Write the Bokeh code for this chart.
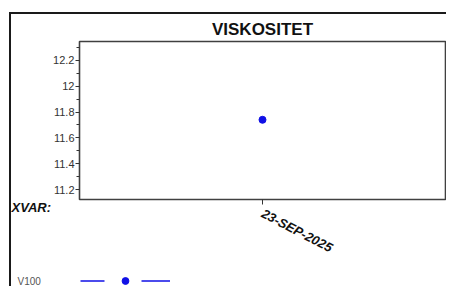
from bokeh.plotting import figure
from bokeh.models import (Label, Range1d, FactorRange, FixedTicker, Legend, LegendItem,
                          CustomJSTickFormatter, ColumnDataSource, Title)
from bokeh.layouts import column
from bokeh.embed import file_html
from bokeh.resources import INLINE

# ---- data ----
dates = ["23-SEP-2025"]
v100 = [11.74]
y_ticks = [11.2, 11.4, 11.6, 11.8, 12.0, 12.2]
y_minor = [11.2, 11.3, 11.4, 11.5, 11.6, 11.7, 11.8, 11.9, 12.0, 12.1, 12.2, 12.3]
title_text = "VISKOSITET"
xvar_text = "XVAR:"
series_name = "V100"

FONT = "Liberation Sans"
BLUE = "#1010e6"

src = ColumnDataSource(dict(x=dates, y=v100))

# ---------------- main chart ----------------
p = figure(width=435, height=254, output_backend="svg", toolbar_location=None,
           title=None, x_range=FactorRange(factors=dates),
           y_range=Range1d(11.123, 12.346),
           min_border_left=64, min_border_right=1, min_border_top=26,
           min_border_bottom=69)
p.background_fill_color = "white"
p.border_fill_color = "white"
p.outline_line_color = "#404040"
p.outline_line_width = 1.6
p.grid.visible = False

p.scatter("x", "y", source=src, size=7, color=BLUE, marker="circle")

p.add_layout(Title(text=title_text, align="center", text_font=FONT,
                   text_font_size="17px", text_font_style="bold",
                   text_color="#111111", standoff=6), "above")

ya = p.yaxis[0]
ya.ticker = FixedTicker(ticks=y_ticks, minor_ticks=y_minor)
ya.formatter = CustomJSTickFormatter(code="return String(Math.round(tick*10)/10)")
ya.axis_line_color = None
ya.major_tick_in = 0
ya.major_tick_out = 4
ya.minor_tick_in = 0
ya.minor_tick_out = 3
ya.major_tick_line_color = "#333333"
ya.minor_tick_line_color = "#333333"
ya.major_label_text_font = FONT
ya.major_label_text_font_size = "11px"
ya.major_label_text_color = "#333333"
ya.major_label_standoff = 1

xa = p.xaxis[0]
xa.axis_line_color = None
xa.major_tick_in = 0
xa.major_tick_out = 5
xa.major_tick_line_color = "#333333"
xa.minor_tick_line_color = None
xa.major_label_orientation = -0.48
xa.major_label_text_font = FONT
xa.major_label_text_font_size = "13px"
xa.major_label_text_font_style = "bold italic"
xa.major_label_text_color = "#111111"
xa.major_label_standoff = 8

# "XVAR:" in the left side panel, just below the frame
p.add_layout(Label(x=0, y=0, x_units="screen", y_units="screen", text=xvar_text,
                   text_font=FONT, text_font_size="13px", text_font_style="bold italic",
                   text_color="#111111", text_align="left", text_baseline="top"),
             "left")

# ---------------- legend strip ----------------
lf = figure(width=435, height=18, output_backend="svg", toolbar_location=None,
            x_range=p.x_range, y_range=Range1d(0, 1),
            min_border_left=0, min_border_right=0, min_border_top=0, min_border_bottom=0,
            x_axis_location=None, y_axis_location=None)
lf.outline_line_color = None
lf.grid.visible = False
lf.border_fill_color = "white"
lf.background_fill_color = "white"

line_r = lf.line("x", "y", source=src, line_color=BLUE, line_width=1.3,
                 line_dash="24 37 29")
dot_r = lf.scatter("x", "y", source=src, size=7, color=BLUE, marker="circle")

# series name in the left side panel of the legend strip (padded so that its
# slot fills the margin and the name starts near the outer border)
lf.add_layout(Label(x=0, y=0, x_units="screen", y_units="screen",
                    text=series_name + "\u00a0" * 14,
                    text_font=FONT, text_font_size="10px", text_color="#555555",
                    text_align="left", text_baseline="bottom"),
              "left")

legend = Legend(items=[LegendItem(label=" ", renderers=[line_r, dot_r])],
                location=(1, -3), glyph_width=90, glyph_height=17,
                label_height=17, label_width=1, padding=0, margin=0, spacing=0,
                label_standoff=0, border_line_color=None, background_fill_alpha=0,
                label_text_font_size="6px")
lf.add_layout(legend)

layout = column(p, lf, spacing=0)
layout.margin = (12, 0, 0, 9)
layout.styles = {"border-left": "2px solid #1a1a1a", "border-top": "2px solid #1a1a1a"}

open("out.html", "w").write(file_html(layout, INLINE))
